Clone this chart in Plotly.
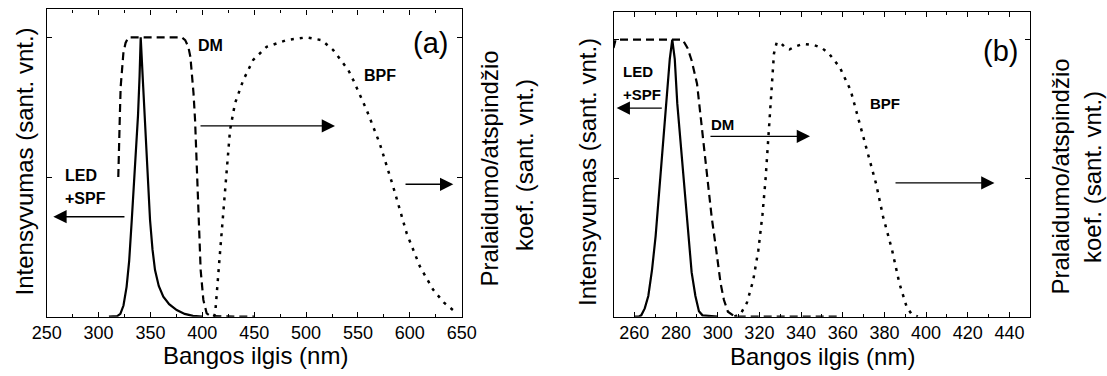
import plotly.graph_objects as go

# ---------------- Panel (a) data ----------------
led_a_x = [310, 318, 321, 324, 327, 329.5, 332, 334, 336, 338, 339.5, 340.6, 343, 346.4, 349.6, 352, 354.4, 358, 362.4, 368, 375.3, 383, 391, 400]
led_a_y = [0, 0.002, 0.01, 0.04, 0.107, 0.2, 0.346, 0.46, 0.585, 0.72, 0.86, 1.0, 0.823, 0.585, 0.346, 0.24, 0.167, 0.11, 0.072, 0.045, 0.024, 0.01, 0.003, 0]

dm_a_x = [319, 319.5, 320.5, 321.3, 322.5, 323.9, 326, 328.7, 340, 360, 380, 383.5, 386.5, 388.5, 389.8, 391.5, 393, 394.6, 396.1, 398.4, 401, 404.2, 408, 420, 435, 450]
dm_a_y = [0.5, 0.608, 0.72, 0.823, 0.89, 0.943, 0.98, 1.0, 1.0, 1.0, 1.0, 0.99, 0.966, 0.93, 0.883, 0.8, 0.704, 0.525, 0.346, 0.167, 0.06, 0.012, 0.002, 0.0, 0.0, 0.0]

bpf_a_x = [411, 412.4, 417, 422, 426.7, 431.5, 439.5, 449, 462, 481, 500.6, 515, 526, 540.7, 545.5, 558.4, 571, 584, 597, 609.8, 622.6, 633, 643.5]
bpf_a_y = [0, 0.012, 0.227, 0.465, 0.668, 0.764, 0.847, 0.919, 0.966, 0.99, 1.0, 0.99, 0.955, 0.883, 0.847, 0.74, 0.62, 0.465, 0.298, 0.179, 0.096, 0.05, 0.018]

# ---------------- Panel (b) data ----------------
led_b_x = [260, 262, 263.3, 265, 266.7, 268.5, 270.2, 272.8, 275.4, 277, 278.2, 279.4, 280.6, 283.2, 285.8, 287.5, 289.3, 291, 292.7, 300]
led_b_y = [0, 0, 0.005, 0.03, 0.075, 0.17, 0.29, 0.53, 0.77, 0.93, 1.0, 0.93, 0.77, 0.53, 0.29, 0.16, 0.075, 0.02, 0.005, 0]

dm_b_x = [250, 251, 255, 270, 283.2, 285.5, 287.5, 290.1, 291.9, 293.6, 295.3, 297.1, 299.3, 301.4, 303, 304.9, 308.3, 320, 340, 358.6]
dm_b_y = [0.97, 1.0, 1.0, 1.0, 1.0, 0.97, 0.925, 0.84, 0.72, 0.6, 0.48, 0.36, 0.24, 0.12, 0.06, 0.018, 0, 0, 0, 0]

bpf_b_x = [308, 311, 314, 317, 319.5, 321.5, 323, 324, 325, 326, 327, 328.3, 330, 332, 334.5, 337, 341, 346.5, 350, 353.4, 358.6, 363.8, 367.3, 371.6, 376, 379.4, 383.7, 387.2, 390.7, 393, 396]
bpf_b_y = [0, 0.01, 0.05, 0.13, 0.24, 0.37, 0.5, 0.62, 0.75, 0.87, 0.95, 0.99, 0.99, 0.975, 0.965, 0.975, 0.985, 0.98, 0.97, 0.95, 0.9, 0.817, 0.72, 0.6, 0.48, 0.36, 0.24, 0.12, 0.035, 0.01, 0]

xticks_a = [250, 300, 350, 400, 450, 500, 550, 600, 650]
xticks_b = [260, 280, 300, 320, 340, 360, 380, 400, 420, 440]
yticks = [0, 0.5, 1.0]

W, H = 1107, 376
FONT = "Arial, Liberation Sans, sans-serif"

fig = go.Figure()

# panel a
fig.add_trace(go.Scatter(x=led_a_x, y=led_a_y, mode="lines", line=dict(color="black", width=2.2), xaxis="x", yaxis="y"))
fig.add_trace(go.Scatter(x=dm_a_x, y=dm_a_y, mode="lines", line=dict(color="black", width=2.2, dash="8px,5px"), xaxis="x", yaxis="y"))
fig.add_trace(go.Scatter(x=bpf_a_x, y=bpf_a_y, mode="lines", line=dict(color="black", width=2.5, dash="3px,6px"), xaxis="x", yaxis="y"))
# panel b
fig.add_trace(go.Scatter(x=led_b_x, y=led_b_y, mode="lines", line=dict(color="black", width=2.2), xaxis="x2", yaxis="y2"))
fig.add_trace(go.Scatter(x=dm_b_x, y=dm_b_y, mode="lines", line=dict(color="black", width=2.2, dash="8px,5px"), xaxis="x2", yaxis="y2"))
fig.add_trace(go.Scatter(x=bpf_b_x, y=bpf_b_y, mode="lines", line=dict(color="black", width=2.5, dash="3px,6px"), xaxis="x2", yaxis="y2"))

def px2paper_x(px):
    return px / W

def px2paper_y(py):
    return 1 - py / H

common_x = dict(ticks="inside", ticklen=5, tickwidth=1, tickcolor="black",
                showline=True, linecolor="black", linewidth=1.2, mirror="ticks",
                showgrid=False, zeroline=False, automargin=False,
                tickfont=dict(family=FONT, size=18, color="black"))
common_y = dict(ticks="inside", ticklen=5, tickwidth=1, tickcolor="black",
                showline=True, linecolor="black", linewidth=1.2, mirror="ticks",
                showgrid=False, zeroline=False, showticklabels=False, automargin=False,
                tickvals=yticks, range=[0, 1.1])

fig.update_layout(
    width=W, height=H, margin=dict(l=0, r=0, t=0, b=0, pad=0, autoexpand=False),
    paper_bgcolor="white", plot_bgcolor="white", showlegend=False,
    font=dict(family=FONT, color="black"),
    xaxis=dict(domain=[px2paper_x(46.7), px2paper_x(461.7)], range=[250, 650], tickvals=xticks_a,
               minor=dict(dtick=25, tick0=250, ticks="inside", ticklen=3, tickcolor="black"),
               anchor="y", **common_x),
    yaxis=dict(domain=[px2paper_y(316.7), px2paper_y(9.4)], anchor="x", **common_y),
    xaxis2=dict(domain=[px2paper_x(613.5), px2paper_x(1030.3)], range=[250, 450], tickvals=xticks_b,
                minor=dict(dtick=10, tick0=250, ticks="inside", ticklen=3, tickcolor="black"),
                anchor="y2", **common_x),
    yaxis2=dict(domain=[px2paper_y(316.7), px2paper_y(12.0)], anchor="x2", **common_y),
)

ann = []
def label(text, x, y, xref, yref, size=16, bold=True):
    t = f"<b>{text}</b>" if bold else text
    ann.append(dict(text=t, x=x, y=y, xref=xref, yref=yref, showarrow=False,
                    font=dict(family=FONT, size=size, color="black"), xanchor="center", yanchor="middle"))

def arrow(x0, x1, y, xref, yref):
    ann.append(dict(text="", x=x1, y=y, ax=x0, ay=y, xref=xref, yref=yref, axref=xref, ayref=yref,
                    showarrow=True, arrowhead=2, arrowsize=1.9, arrowwidth=1.4, arrowcolor="black", standoff=0))

label("LED", 283.5, 0.507, "x", "y")
label("+SPF", 287.4, 0.423, "x", "y")
arrow(326.4, 256.4, 0.358, "x", "y")
label("DM", 408.2, 0.972, "x", "y")
arrow(396.8, 527.9, 0.683, "x", "y")
label("BPF", 571, 0.865, "x", "y")
arrow(594.4, 641.9, 0.474, "x", "y")
label("(a)", 620.4, 0.98, "x", "y", size=29, bold=False)

label("LED", 261.7, 0.885, "x2", "y2", size=15)
label("+SPF", 263.9, 0.802, "x2", "y2", size=15)
arrow(273.9, 251.5, 0.753, "x2", "y2")
label("DM", 302.3, 0.695, "x2", "y2", size=15)
arrow(295.8, 344.3, 0.651, "x2", "y2")
label("BPF", 380.3, 0.769, "x2", "y2", size=15)
arrow(384.6, 432.8, 0.483, "x2", "y2")
label("(b)", 435.5, 0.961, "x2", "y2", size=29, bold=False)

def title(text, xpx, ypx, angle=0, size=24):
    ann.append(dict(text=text, x=px2paper_x(xpx), y=px2paper_y(ypx), xref="paper", yref="paper",
                    showarrow=False, textangle=angle, xanchor="center", yanchor="middle",
                    font=dict(family=FONT, size=size, color="black")))

title("Intensyvumas (sant. vnt.)", 24, 161.5, -90)
title("Bangos ilgis (nm)", 255, 355)
title("Pralaidumo/atspindžio", 489, 168.5, -90)
title("koef. (sant. vnt.)", 524, 165, -90)

title("Intensyvumas (sant. vnt.)", 587.5, 172.5, -90)
title("Bangos ilgis (nm)", 822, 356)
title("Pralaidumo/atspindžio", 1060, 176.5, -90)
title("koef. (sant. vnt.)", 1092, 177, -90)

fig.update_layout(annotations=ann)
fig.write_html("out.html")
